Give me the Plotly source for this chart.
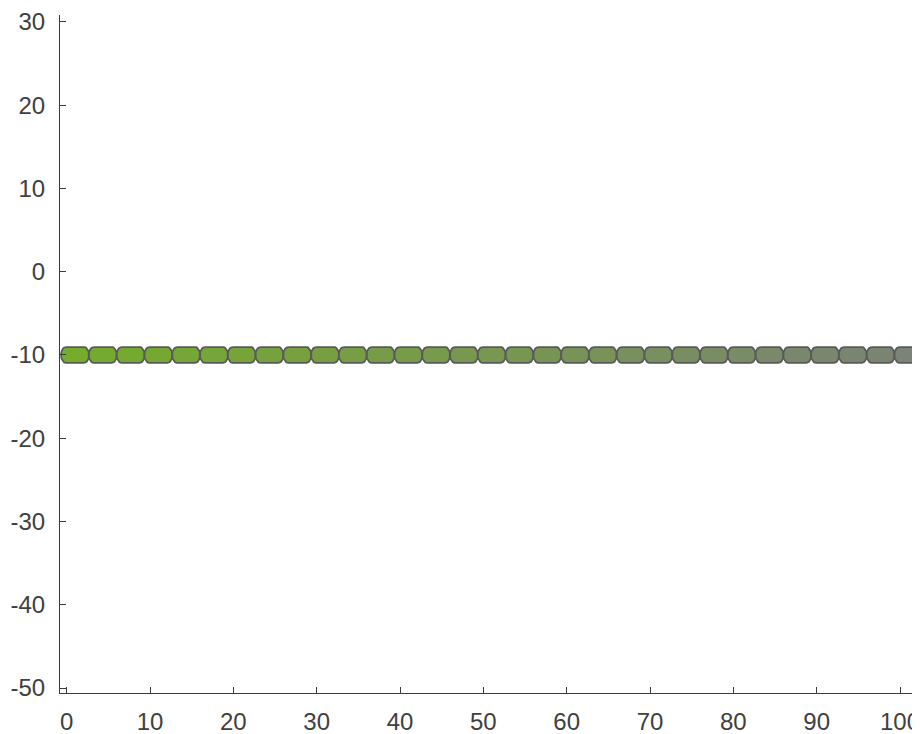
import numpy as np
import plotly.graph_objects as go

# ---- data ----
x_values = [1.0, 4.33, 7.67, 11.0, 14.33, 17.67, 21.0, 24.33, 27.67, 31.0,
            34.33, 37.67, 41.0, 44.33, 47.67, 51.0, 54.33, 57.67, 61.0, 64.33,
            67.67, 71.0, 74.33, 77.67, 81.0, 84.33, 87.67, 91.0, 94.33, 97.67, 101.0]
y_values = [-10, -10, -10, -10, -10, -10, -10, -10, -10, -10,
            -10, -10, -10, -10, -10, -10, -10, -10, -10, -10,
            -10, -10, -10, -10, -10, -10, -10, -10, -10, -10, -10]
x_ticks = [0, 10, 20, 30, 40, 50, 60, 70, 80, 90, 100]
y_ticks = [-50, -40, -30, -20, -10, 0, 10, 20, 30]

# ---- style ----
c_start = np.array([118, 172, 44])
c_end = np.array([122, 131, 118])
edge_color = "#5a5a5a"
half_w = 1.68      # marker half width in x units
half_h = 0.95      # marker half height in y units
end_rx = 0.6       # horizontal radius of rounded ends (x units)

def capsule(cx, cy):
    t1 = np.linspace(np.pi / 2, 3 * np.pi / 2, 16)   # left end
    t2 = np.linspace(-np.pi / 2, np.pi / 2, 16)      # right end
    lx = (cx - half_w + end_rx) + end_rx * np.cos(t1)
    ly = cy + half_h * np.sin(t1)
    rx = (cx + half_w - end_rx) + end_rx * np.cos(t2)
    ry = cy + half_h * np.sin(t2)
    xs = np.concatenate([lx, rx, lx[:1]])
    ys = np.concatenate([ly, ry, ly[:1]])
    return xs, ys

fig = go.Figure()
n = len(x_values)
for i, (xv, yv) in enumerate(zip(x_values, y_values)):
    f = i / (n - 1)
    col = c_start + (c_end - c_start) * f
    xs, ys = capsule(xv, yv)
    fig.add_trace(go.Scatter(
        x=xs, y=ys, mode="lines", fill="toself",
        fillcolor=f"rgb({int(col[0])},{int(col[1])},{int(col[2])})",
        line=dict(color=edge_color, width=1.8),
        hoverinfo="skip", showlegend=False,
    ))

axis_common = dict(
    showline=True, linecolor="#3c3c3c", linewidth=1.2,
    ticks="inside", ticklen=6, tickwidth=1.2, tickcolor="#3c3c3c",
    showgrid=False, zeroline=False, mirror=False,
    ticklabeloverflow="allow",
    tickfont=dict(family="Liberation Sans, Arial, sans-serif", size=24, color="#404040"),
)

fig.update_layout(
    width=920, height=734,
    margin=dict(l=52, r=0, t=2, b=49),
    paper_bgcolor="white", plot_bgcolor="white",
    showlegend=False,
    xaxis=dict(range=[-0.8, 103.36], tickvals=x_ticks, ticktext=[str(v) for v in x_ticks],
               ticklabelstandoff=7, **axis_common),
    yaxis=dict(range=[-50.6, 30.83], tickvals=y_ticks, ticktext=[str(v) for v in y_ticks],
               ticklabelstandoff=9, **axis_common),
)

fig.write_html("out.html")
